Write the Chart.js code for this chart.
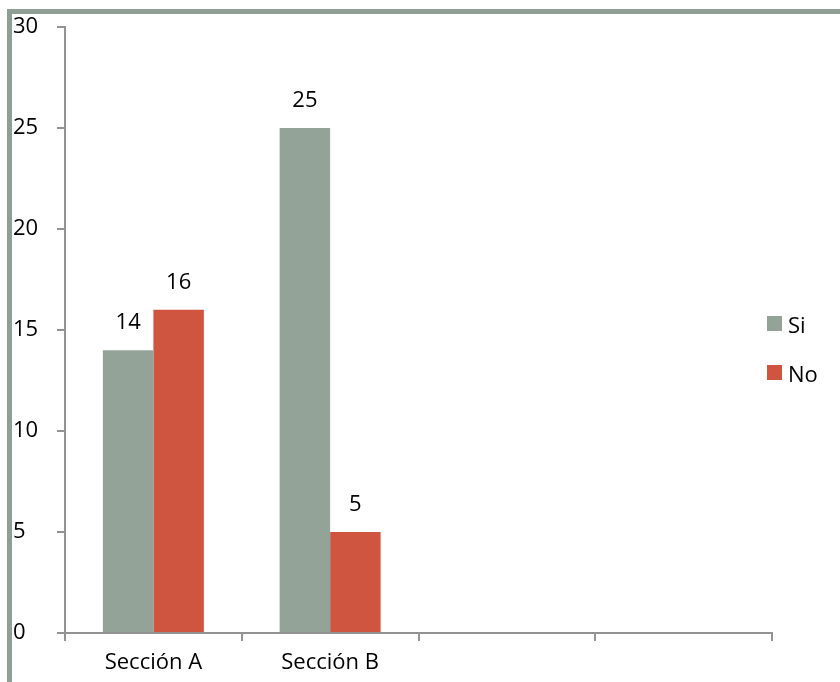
<!DOCTYPE html>
<html>
<head>
<meta charset="utf-8">
<script src="https://cdn.jsdelivr.net/npm/chart.js@4"></script>
<style>
  html, body { margin: 0; padding: 0; background: #fff; overflow: hidden; }
  #wrap { position: relative; width: 840px; height: 682px; }
  #frame {
    position: absolute; left: 7px; top: 9px; width: 900px; height: 800px;
    border: 5px solid #8f9f95; box-sizing: border-box;
  }
  #chart { position: absolute; left: 0; top: 0; }
  #legend { position: absolute; left: 767px; top: 308px; font-family: 'Open Sans', sans-serif; font-size: 22px; color: #000; }
  .item { display: flex; align-items: center; height: 31px; margin-bottom: 18px; }
  .swatch { width: 15px; height: 15px; margin-right: 6px; }
</style>
</head>
<body>
<div id="wrap">
  <div id="frame"></div>
  <canvas id="chart" width="840" height="682"></canvas>
  <div id="legend"></div>
</div>
<script>
'use strict';

// categorias y series
const categorias = ['Sección A', 'Sección B', '', ''];
const serieSi = [14, 25, null, null];
const serieNo = [16, 5, null, null];
const ticksY = [0, 5, 10, 15, 20, 25, 30];

const colorSi = '#93a397';
const colorNo = '#d05540';
const fuente = "'Open Sans', sans-serif";
const tamFuente = 22;

// etiquetas de valor encima de cada barra
const etiquetasValor = {
  id: 'etiquetasValor',
  afterDatasetsDraw(chart) {
    const ctx = chart.ctx;
    ctx.save();
    ctx.font = `${tamFuente}px ${fuente}`;
    ctx.fillStyle = '#000';
    ctx.textAlign = 'center';
    ctx.textBaseline = 'middle';
    chart.data.datasets.forEach((ds, i) => {
      chart.getDatasetMeta(i).data.forEach((bar, j) => {
        if (ds.data[j] == null) return;
        ctx.fillText(String(ds.data[j]), bar.x, bar.y - 27);
      });
    });
    ctx.restore();
  }
};

const chart = new Chart(document.getElementById('chart'), {
  type: 'bar',
  data: {
    labels: categorias,
    datasets: [
      { label: 'Si', data: serieSi, backgroundColor: colorSi },
      { label: 'No', data: serieNo, backgroundColor: colorNo }
    ]
  },
  options: {
    responsive: false,
    animation: false,
    events: [],
    layout: { padding: { left: 13, right: 68, top: 27, bottom: 0 } },
    datasets: { bar: { categoryPercentage: 2 / 3.5, barPercentage: 1 } },
    plugins: { legend: { display: false }, tooltip: { enabled: false } },
    scales: {
      x: {
        afterFit(scale) { scale.height = 49; },
        grid: { drawOnChartArea: false, tickLength: 8, color: '#939393', lineWidth: 2, offset: true },
        border: { color: '#939393', width: 2 },
        ticks: { color: '#000', font: { family: fuente, size: tamFuente }, padding: 9, maxRotation: 0 }
      },
      y: {
        min: 0,
        max: 30,
        afterFit(scale) { scale.width = 52; },
        afterBuildTicks(scale) { scale.ticks = ticksY.map(v => ({ value: v })); },
        grid: { drawOnChartArea: false, tickLength: 8, color: '#939393', lineWidth: 2 },
        border: { color: '#939393', width: 2 },
        ticks: { color: '#000', font: { family: fuente, size: tamFuente }, crossAlign: 'far', padding: 4 }
      }
    }
  },
  plugins: [etiquetasValor]
});

// leyenda a la derecha (se superpone al area del grafico como en el original)
const legend = document.getElementById('legend');
chart.data.datasets.forEach(ds => {
  const item = document.createElement('div');
  item.className = 'item';
  const sw = document.createElement('span');
  sw.className = 'swatch';
  sw.style.background = ds.backgroundColor;
  const txt = document.createElement('span');
  txt.textContent = ds.label;
  item.appendChild(sw);
  item.appendChild(txt);
  legend.appendChild(item);
});
</script>
</body>
</html>
